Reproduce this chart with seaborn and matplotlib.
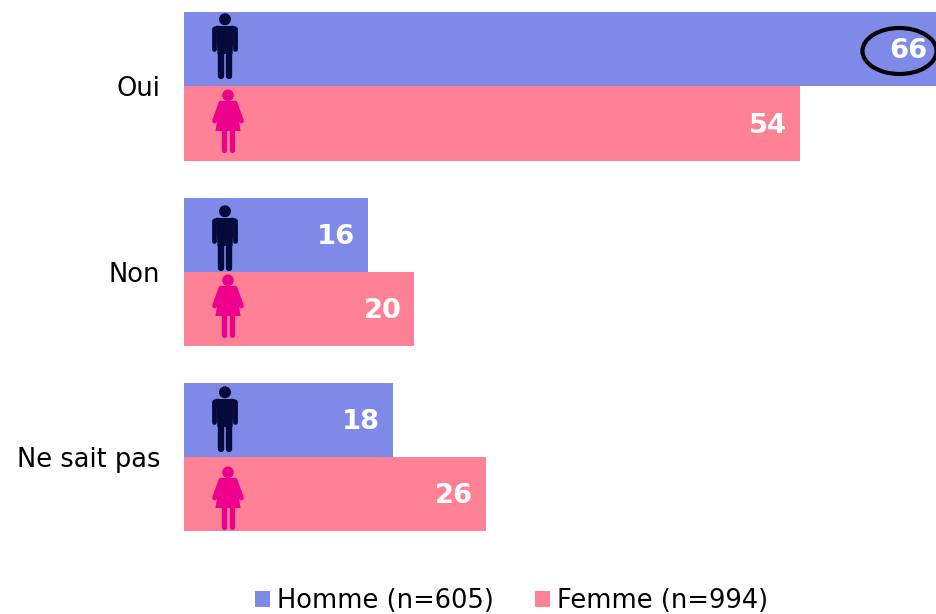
import matplotlib
matplotlib.use("Agg")
import matplotlib.pyplot as plt
from matplotlib.patches import Ellipse, Circle, Polygon
import pandas as pd
import seaborn as sns

categories = ["Oui", "Non", "Ne sait pas"]
homme = [66.3, 16.1, 18.3]
femme = [54, 20.2, 26.45]
series_names = ["Homme (n=605)", "Femme (n=994)"]
colors = ["#7F8AE8", "#FF8195"]
W, H = 937, 614

df = pd.DataFrame({
    "cat": categories * 2,
    "val": homme + femme,
    "sexe": [series_names[0]] * 3 + [series_names[1]] * 3,
})

sns.set_theme(style="white")
plt.rcParams["font.family"] = ["DejaVu Sans"]
fig = plt.figure(figsize=(W / 100, H / 100), dpi=100)
ax = fig.add_axes([184 / W, 1 - 550 / H, (W - 184) / W, 550 / H])
sns.barplot(data=df, y="cat", x="val", hue="sexe", order=categories,
            palette=colors, width=0.8, saturation=1, ax=ax, legend=True,
            linewidth=0)
ax.set_xlim(0, 66)
ax.set_ylim(2.5, -0.4663)
ax.set_xlabel("")
ax.set_ylabel("")
ax.set_xticks([])
ax.tick_params(axis="y", length=0, pad=17, labelsize=18.5, labelcolor="black")
sns.despine(ax=ax, left=True, bottom=True)

# value labels, right-aligned inside the bars
for cont in ax.containers:
    for t in ax.bar_label(cont, fmt="%.0f", padding=-10, label_type="edge",
                          color="white", fontweight="bold", fontsize=19.7):
        t.set_ha("right")
        t.set_va("center")
        t.set_annotation_clip(False)
        t.xyann = (t.xyann[0] + 0.7, t.xyann[1] - 1.5)

# overlay in pixel coordinates for pictograms and the highlight ellipse
ov = fig.add_axes([0, 0, 1, 1], facecolor="none")
ov.set_xlim(0, W)
ov.set_ylim(H, 0)
ov.axis("off")


def stroke(xs, ys, width_px, color):
    ov.plot(xs, ys, color=color, lw=width_px * 0.72, solid_capstyle="round",
            solid_joinstyle="round")


def man(cx, top, color="#050A3C"):
    ov.add_patch(Circle((cx, top + 5.3), 6, color=color, lw=0))
    y0 = top + 12
    ov.add_patch(Polygon([(cx - 9, y0), (cx + 9, y0), (cx + 7.5, y0 + 28), (cx - 7.5, y0 + 28)],
                         closed=True, color=color, lw=0))
    stroke([cx - 10.5, cx - 10.5], [y0 + 4, y0 + 23], 4.8, color)
    stroke([cx + 10.5, cx + 10.5], [y0 + 4, y0 + 23], 4.8, color)
    stroke([cx - 10.5, cx - 7], [y0 + 3, y0 + 2], 4.8, color)
    stroke([cx + 10.5, cx + 7], [y0 + 3, y0 + 2], 4.8, color)
    stroke([cx - 3.8, cx - 3.8], [y0 + 24, y0 + 50], 6.4, color)
    stroke([cx + 3.8, cx + 3.8], [y0 + 24, y0 + 50], 6.4, color)


def woman(cx, top, color="#EC008C"):
    ov.add_patch(Circle((cx, top + 5.3), 5.8, color=color, lw=0))
    y0 = top + 11
    ov.add_patch(Polygon([(cx - 8, y0), (cx + 8, y0), (cx + 12.5, y0 + 30), (cx - 12.5, y0 + 30)],
                         closed=True, color=color, lw=0))
    stroke([cx - 7, cx - 13.5], [y0 + 2, y0 + 20], 4.8, color)
    stroke([cx + 7, cx + 13.5], [y0 + 2, y0 + 20], 4.8, color)
    stroke([cx - 3.6, cx - 3.6], [y0 + 28, y0 + 49], 5.2, color)
    stroke([cx + 3.6, cx + 3.6], [y0 + 28, y0 + 49], 5.2, color)


for t in (14, 206, 387):
    man(225, t)
for t in (90, 275, 467):
    woman(228, t)

ov.add_patch(Ellipse((899.5, 51), 74, 46, fill=False, edgecolor="black", lw=3.0))

# legend
handles, labels = ax.get_legend_handles_labels()
ax.get_legend().remove()
fig.legend(handles, labels, loc="lower left", bbox_to_anchor=(232 / W, -23 / H),
           ncol=2, frameon=False, fontsize=18.5, handlelength=0.58, handleheight=0.58,
           handletextpad=0.27, columnspacing=1.6, labelcolor="black")
fig.savefig("out.png", dpi=100)
